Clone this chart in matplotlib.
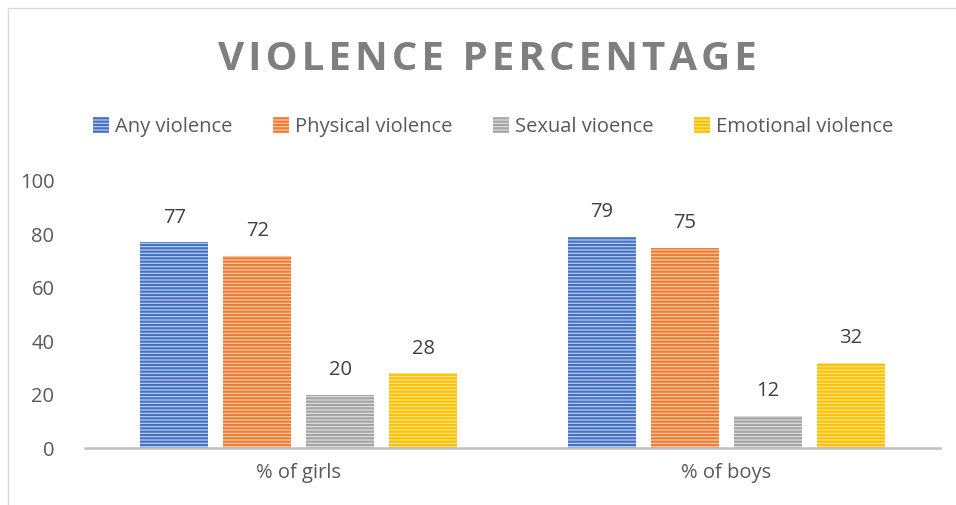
import matplotlib.pyplot as plt
import numpy as np
from matplotlib.patches import Rectangle

# data
groups = ["% of girls", "% of boys"]
series = ["Any violence", "Physical violence", "Sexual vioence", "Emotional violence"]
any_violence = [77, 79]
physical_violence = [72, 75]
sexual_violence = [20, 12]
emotional_violence = [28, 32]
yticks = [0, 20, 40, 60, 80, 100]
title = "VIOLENCE PERCENTAGE"

values = [any_violence, physical_violence, sexual_violence, emotional_violence]
colors = ["#4472C4", "#ED7D31", "#A5A5A5", "#FFC000"]
light = ["#C5D3EE", "#F9CFB2", "#E1E1E1", "#FFE699"]
text_color = "#595959"

plt.rcParams["font.family"] = ["Open Sans", "DejaVu Sans"]
plt.rcParams["hatch.linewidth"] = 1.6

fig = plt.figure(figsize=(9.56, 5.05), dpi=100)
ax = fig.add_axes([85 / 956, 1 - 448 / 505, (940 - 85) / 956, (448 - 181) / 505])

# chart border
fig.patches.append(Rectangle((8 / 956, -0.1), 1.1, 1 - 8 / 505 + 0.1,
                             transform=fig.transFigure, fill=False,
                             edgecolor="#D9D9D9", linewidth=1))

x = np.arange(len(groups))
width = 0.159
step = 0.194
for i, (name, vals) in enumerate(zip(series, values)):
    pos = x + (i - 1.5) * step
    bars = ax.bar(pos, vals, width, facecolor=light[i], edgecolor=colors[i],
                  hatch="-----", linewidth=0, label=name)
    for b, v in zip(bars, vals):
        ax.text(b.get_x() + b.get_width() / 2, v + 5.5, str(v), ha="center",
                va="bottom", fontsize=14.5, color="#404040")

ax.set_xlim(-0.5, 1.5)
ax.set_ylim(0, 100)
ax.set_yticks(yticks)
ax.set_xticks(x)
ax.set_xticklabels(groups)
ax.tick_params(length=0, labelsize=14.5, colors=text_color, pad=11)
ax.tick_params(axis="y", pad=22)
for s in ["top", "right", "left"]:
    ax.spines[s].set_visible(False)
ax.spines["bottom"].set_color("#BFBFBF")
ax.spines["bottom"].set_linewidth(1.8)

fig.text(487 / 956, 1 - 59 / 505, "\u200a".join(title), ha="center", va="center",
         fontsize=29, fontweight="bold", color="#7F7F7F")

fig.legend(loc="center", bbox_to_anchor=(493 / 956, 1 - 127 / 505), ncol=4,
           frameon=False, fontsize=14.5, labelcolor=text_color, handlelength=0.8,
           handleheight=0.8, handletextpad=0.3, columnspacing=2.0)

fig.savefig("out.png", dpi=100)
